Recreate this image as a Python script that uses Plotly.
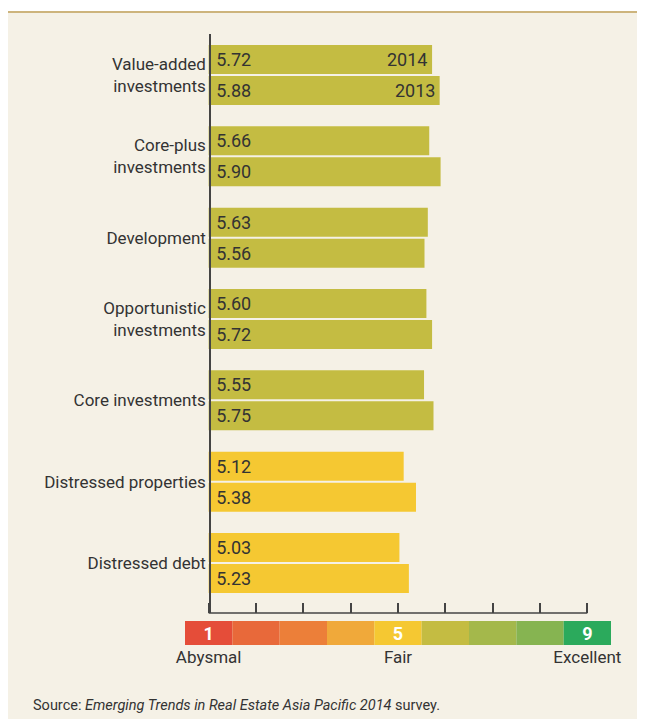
import plotly.graph_objects as go

# data
categories = ["Value-added<br>investments", "Core-plus<br>investments", "Development",
              "Opportunistic<br>investments", "Core investments",
              "Distressed properties", "Distressed debt"]
values_2014 = [5.72, 5.66, 5.63, 5.60, 5.55, 5.12, 5.03]
values_2013 = [5.88, 5.90, 5.56, 5.72, 5.75, 5.38, 5.23]
scale_steps = [1, 2, 3, 4, 5, 6, 7, 8, 9]
scale_colors = ["#E54D39", "#E8693A", "#EC7F39", "#F0A93A", "#F5C832",
                "#C4BC42", "#A4B84B", "#86B451", "#2BAA5C"]
scale_numbers = ["1", "", "", "", "5", "", "", "", "9"]
scale_ticks = [1, 5, 9]
scale_labels = ["Abysmal", "Fair", "Excellent"]

FONT = "Roboto, Liberation Sans, sans-serif"
TXT = "#333333"
BG = "#F5F1E6"

# the page body has an 8px margin, so the figure is laid out
# in window pixels and sized to fit inside the 645x727 window
PAGE = 8
W, H = 645 - PAGE, 727 - 2 * PAGE
ML, MR, MT = 185 - PAGE, 645 - 611, 34 - PAGE
MB = H - (645 - PAGE)
PW, PH = W - ML - MR, H - MT - MB


def px_x(px):  # window pixel -> paper x
    return (px - PAGE - ML) / PW


def px_y(py):  # window pixel -> paper y
    return (H - MB - (py - PAGE)) / PH


def bar_color(v):
    return scale_colors[int(round(v)) - 1]


ypos = list(range(len(categories)))
main_bottom = px_y(613)
bargap = 0.237

fig = go.Figure()

for vals in (values_2014, values_2013):
    fig.add_trace(go.Bar(
        y=ypos, x=[v - 1 for v in vals], base=1, orientation="h",
        marker=dict(color=[bar_color(v) for v in vals], line=dict(width=0)),
        text=["\u00a0" + f"{v:.2f}" for v in vals], textposition="inside",
        insidetextanchor="start", textangle=0, constraintext="none",
        textfont=dict(family=FONT, size=18, color=TXT),
        xaxis="x", yaxis="y", hoverinfo="skip", showlegend=False,
    ))

# colour scale strip
fig.add_trace(go.Bar(
    x=scale_steps, y=[1] * len(scale_steps), width=1,
    marker=dict(color=scale_colors, line=dict(width=0)),
    text=scale_numbers, textposition="inside", insidetextanchor="middle",
    textangle=0, constraintext="none",
    textfont=dict(family=FONT, size=18, color="white", weight="bold"),
    xaxis="x2", yaxis="y2", hoverinfo="skip", showlegend=False,
))

# year labels inside the first pair of bars
off = (1 - bargap) / 4
annotations = [
    dict(x=values_2014[0], y=ypos[0] - off, text="2014", xref="x", yref="y",
         xanchor="right", xshift=-3, showarrow=False,
         font=dict(family=FONT, size=18, color=TXT)),
    dict(x=values_2013[0], y=ypos[0] + off, text="2013", xref="x", yref="y",
         xanchor="right", xshift=-3, showarrow=False,
         font=dict(family=FONT, size=18, color=TXT)),
    dict(x=px_x(31), y=px_y(705), xref="paper", yref="paper",
         xanchor="left", yanchor="middle", showarrow=False,
         text="Source: <i>Emerging Trends in Real Estate Asia Pacific 2014</i> survey.",
         font=dict(family=FONT, size=14.5, color=TXT)),
]

shapes = [
    # white strip above the gold rule
    dict(type="rect", xref="paper", yref="paper", layer="below",
         x0=px_x(0), x1=px_x(660), y0=px_y(12), y1=px_y(-10),
         fillcolor="white", line=dict(width=0)),
    dict(type="line", xref="paper", yref="paper",
         x0=px_x(0), x1=px_x(660), y0=px_y(12), y1=px_y(12),
         line=dict(color="#CDB47C", width=2)),
    # x axis baseline from 1 to 9
    dict(type="line", xref="x", yref="paper", x0=1, x1=9,
         y0=main_bottom, y1=main_bottom, line=dict(color="#444444", width=1.5)),
]

fig.update_layout(
    width=W, height=H,
    margin=dict(l=ML, r=MR, t=MT, b=MB),
    paper_bgcolor=BG, plot_bgcolor="rgba(0,0,0,0)",
    barmode="group", bargap=bargap, bargroupgap=0.065,
    font=dict(family=FONT, color=TXT),
    xaxis=dict(domain=[0, 1], range=[0.5, 9.5], anchor="y",
               tickvals=scale_steps, ticks="inside", ticklen=10,
               tickcolor="#444444", tickwidth=1.5, showticklabels=False,
               showgrid=False, zeroline=False, showline=False),
    yaxis=dict(domain=[main_bottom, 1], range=[6.615, -0.504],
               anchor="free", position=px_x(210),
               tickvals=ypos, ticktext=categories, ticks="",
               tickfont=dict(family=FONT, size=17, color=TXT),
               showgrid=False, zeroline=False, showline=True,
               linecolor="#444444", linewidth=1.5),
    xaxis2=dict(domain=[0, 1], range=[0.5, 9.5], anchor="y2",
                tickvals=scale_ticks, ticktext=scale_labels, ticks="",
                tickfont=dict(family=FONT, size=17, color=TXT),
                showgrid=False, zeroline=False, showline=False),
    yaxis2=dict(domain=[0, 24 / PH], range=[0, 1],
                visible=False, fixedrange=True),
    annotations=annotations,
    shapes=shapes,
)

fig.write_html("out.html")
